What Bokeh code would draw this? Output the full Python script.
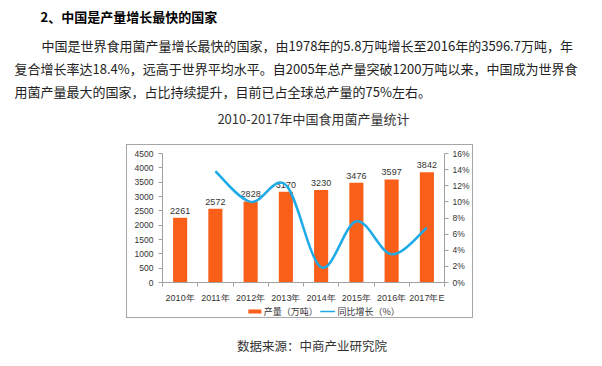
from bokeh.plotting import figure
from bokeh.layouts import column, row
from bokeh.models import (Range1d, LinearAxis, FixedTicker, CustomJSTickFormatter,
                          PrintfTickFormatter, ColumnDataSource, Spacer)
from bokeh.core.properties import value
from bokeh.embed import file_html
from bokeh.resources import INLINE

# ---------------- data ----------------
years = ["2010年", "2011年", "2012年", "2013年", "2014年", "2015年", "2016年", "2017年E"]
output = [2261, 2572, 2828, 3170, 3230, 3476, 3597, 3842]          # 产量（万吨）
growth = [13.8, 10.0, 12.1, 1.9, 7.6, 3.5, 6.8]                     # 同比增长（%）, 2011-2017E
left_ticks = [0, 500, 1000, 1500, 2000, 2500, 3000, 3500, 4000, 4500]
right_ticks = [0, 2, 4, 6, 8, 10, 12, 14, 16]

heading = "2、中国是产量增长最快的国家"
para = ["中国是世界食用菌产量增长最快的国家，由1978年的5.8万吨增长至2016年的3596.7万吨，年",
        "复合增长率达18.4%，远高于世界平均水平。自2005年总产量突破1200万吨以来，中国成为世界食",
        "用菌产量最大的国家，占比持续提升，目前已占全球总产量的75%左右。"]
chart_title = "2010-2017年中国食用菌产量统计"
source_txt = "数据来源：中商产业研究院"
legend_labels = ["产量（万吨）", "同比增长（%）"]

# ---------------- styling ----------------
CJK = "Noto Sans CJK SC"
BAR = "#FA5F1A"
LINE = "#1EAAE6"
AX = "#A0A0A0"
LAB = "#333333"
W = 602
TOP_H, MID_H, BOT_H = 144, 174, 48
BOX_L, BOX_W = 126, 347
CW, CH_PLOT, CH_LEG = BOX_W - 2, 160, 12


def text_panel(w, h):
    f = figure(width=w, height=h, output_backend="svg", toolbar_location=None,
               x_range=Range1d(0, w), y_range=Range1d(h, 0),
               x_axis_type=None, y_axis_type=None, min_border=0)
    f.outline_line_color = None
    f.grid.visible = False
    f.background_fill_color = "white"
    f.border_fill_color = "white"
    return f


# ---- top: heading, paragraph, chart title ----
top = text_panel(W, TOP_H)
top.text(x=[40], y=[16], text=[heading], text_font=value(CJK), text_font_size="13px",
         text_font_style="bold", text_baseline="middle", text_color="#000000")
top.text(x=[41, 14, 14], y=[45, 68, 91], text=para, text_font=value(CJK),
         text_font_size="13px", text_baseline="middle", text_color="#222222")
top.text(x=[313], y=[118], text=[chart_title], text_font=value(CJK), text_font_size="13px",
         text_align="center", text_baseline="middle", text_color=LAB)

# ---- bottom: source ----
bot = text_panel(W, BOT_H)
bot.text(x=[311.5], y=[27], text=[source_txt], text_font=value(CJK), text_font_size="12.5px",
         text_align="center", text_baseline="middle", text_color=LAB)

# ---- chart ----
p = figure(width=CW, height=CH_PLOT, output_backend="svg", toolbar_location=None,
           x_range=Range1d(0, len(years)), y_range=Range1d(0, 4500),
           min_border_left=35, min_border_right=27, min_border_top=8, min_border_bottom=20)
p.title.visible = False
p.outline_line_color = None
p.xgrid.visible = False
p.ygrid.visible = False
p.background_fill_color = "white"
p.border_fill_color = "white"
p.extra_y_ranges = {"pct": Range1d(0, 16)}

xc = [i + 0.5 for i in range(len(years))]
src = ColumnDataSource(dict(x=xc, y=output, lab=[str(v) for v in output]))
p.vbar(x="x", top="y", width=0.4, bottom=0, source=src, fill_color=BAR, line_color=None)
p.text(x="x", y="y", text="lab", source=src, text_align="center",
       text_baseline="bottom", y_offset=-4, text_font_size="9px",
       text_font=value("Liberation Sans"), text_color=LAB)

# smooth growth line (Catmull-Rom -> cubic bezier through the data points)
gx = xc[1:]
pts = list(zip(gx, growth))
n = len(pts)
bx0, by0, bx1, by1, cx0, cy0, cx1, cy1 = ([] for _ in range(8))
for i in range(n - 1):
    p0 = pts[max(i - 1, 0)]
    p1 = pts[i]
    p2 = pts[i + 1]
    p3 = pts[min(i + 2, n - 1)]
    bx0.append(p1[0]); by0.append(p1[1])
    bx1.append(p2[0]); by1.append(p2[1])
    cx0.append(p1[0] + (p2[0] - p0[0]) / 6); cy0.append(p1[1] + (p2[1] - p0[1]) / 6)
    cx1.append(p2[0] - (p3[0] - p1[0]) / 6); cy1.append(p2[1] - (p3[1] - p1[1]) / 6)
p.bezier(x0=bx0, y0=by0, x1=bx1, y1=by1, cx0=cx0, cy0=cy0, cx1=cx1, cy1=cy1,
         line_color=LINE, line_width=2.5, y_range_name="pct")

xa = p.xaxis[0]
xa.ticker = FixedTicker(ticks=xc, minor_ticks=list(range(len(years) + 1)))
xa.formatter = CustomJSTickFormatter(args=dict(labels=years),
                                     code="return labels[Math.floor(tick)] || ''")
xa.major_tick_out = 0
xa.major_tick_in = 0
xa.minor_tick_out = 4
xa.minor_tick_in = 0
xa.minor_tick_line_color = AX
xa.axis_line_color = AX
xa.major_label_text_font = "Liberation Sans"
xa.major_label_text_font_size = "9px"
xa.major_label_text_color = LAB
xa.major_label_standoff = 6

ya = p.yaxis[0]
ya.ticker = FixedTicker(ticks=left_ticks)
ya.minor_tick_line_color = None
ya.major_tick_out = 4
ya.major_tick_in = 0
ya.major_tick_line_color = AX
ya.axis_line_color = AX
ya.major_label_text_font = "Liberation Sans"
ya.major_label_text_font_size = "8.5px"
ya.major_label_text_color = LAB
ya.major_label_standoff = 5

ra = LinearAxis(y_range_name="pct", ticker=FixedTicker(ticks=right_ticks),
                formatter=PrintfTickFormatter(format="%d%%"))
ra.minor_tick_line_color = None
ra.major_tick_out = 4
ra.major_tick_in = 0
ra.major_tick_line_color = AX
ra.axis_line_color = AX
ra.major_label_text_font = "Liberation Sans"
ra.major_label_text_font_size = "8.5px"
ra.major_label_text_color = LAB
ra.major_label_standoff = 4
p.add_layout(ra, "right")

# ---- legend strip (inside the chart box) ----
lg = text_panel(CW, CH_LEG)
lg.quad(left=[105], right=[121], top=[4], bottom=[8], fill_color=BAR, line_color=None)
lg.segment(x0=[193], y0=[6], x1=[211], y1=[6], line_color=LINE, line_width=1.5)
lg.text(x=[124, 214], y=[6, 6], text=legend_labels, text_font=value(CJK),
        text_font_size="9px", text_baseline="middle", text_color=LAB)

box = column(p, lg, styles={"border": "1px solid #A6A6A6"})
mid = row(Spacer(width=BOX_L, height=MID_H), box, Spacer(width=W - BOX_L - BOX_W, height=MID_H))
page = column(top, mid, bot)

open("out.html", "w").write(file_html(page, INLINE))
